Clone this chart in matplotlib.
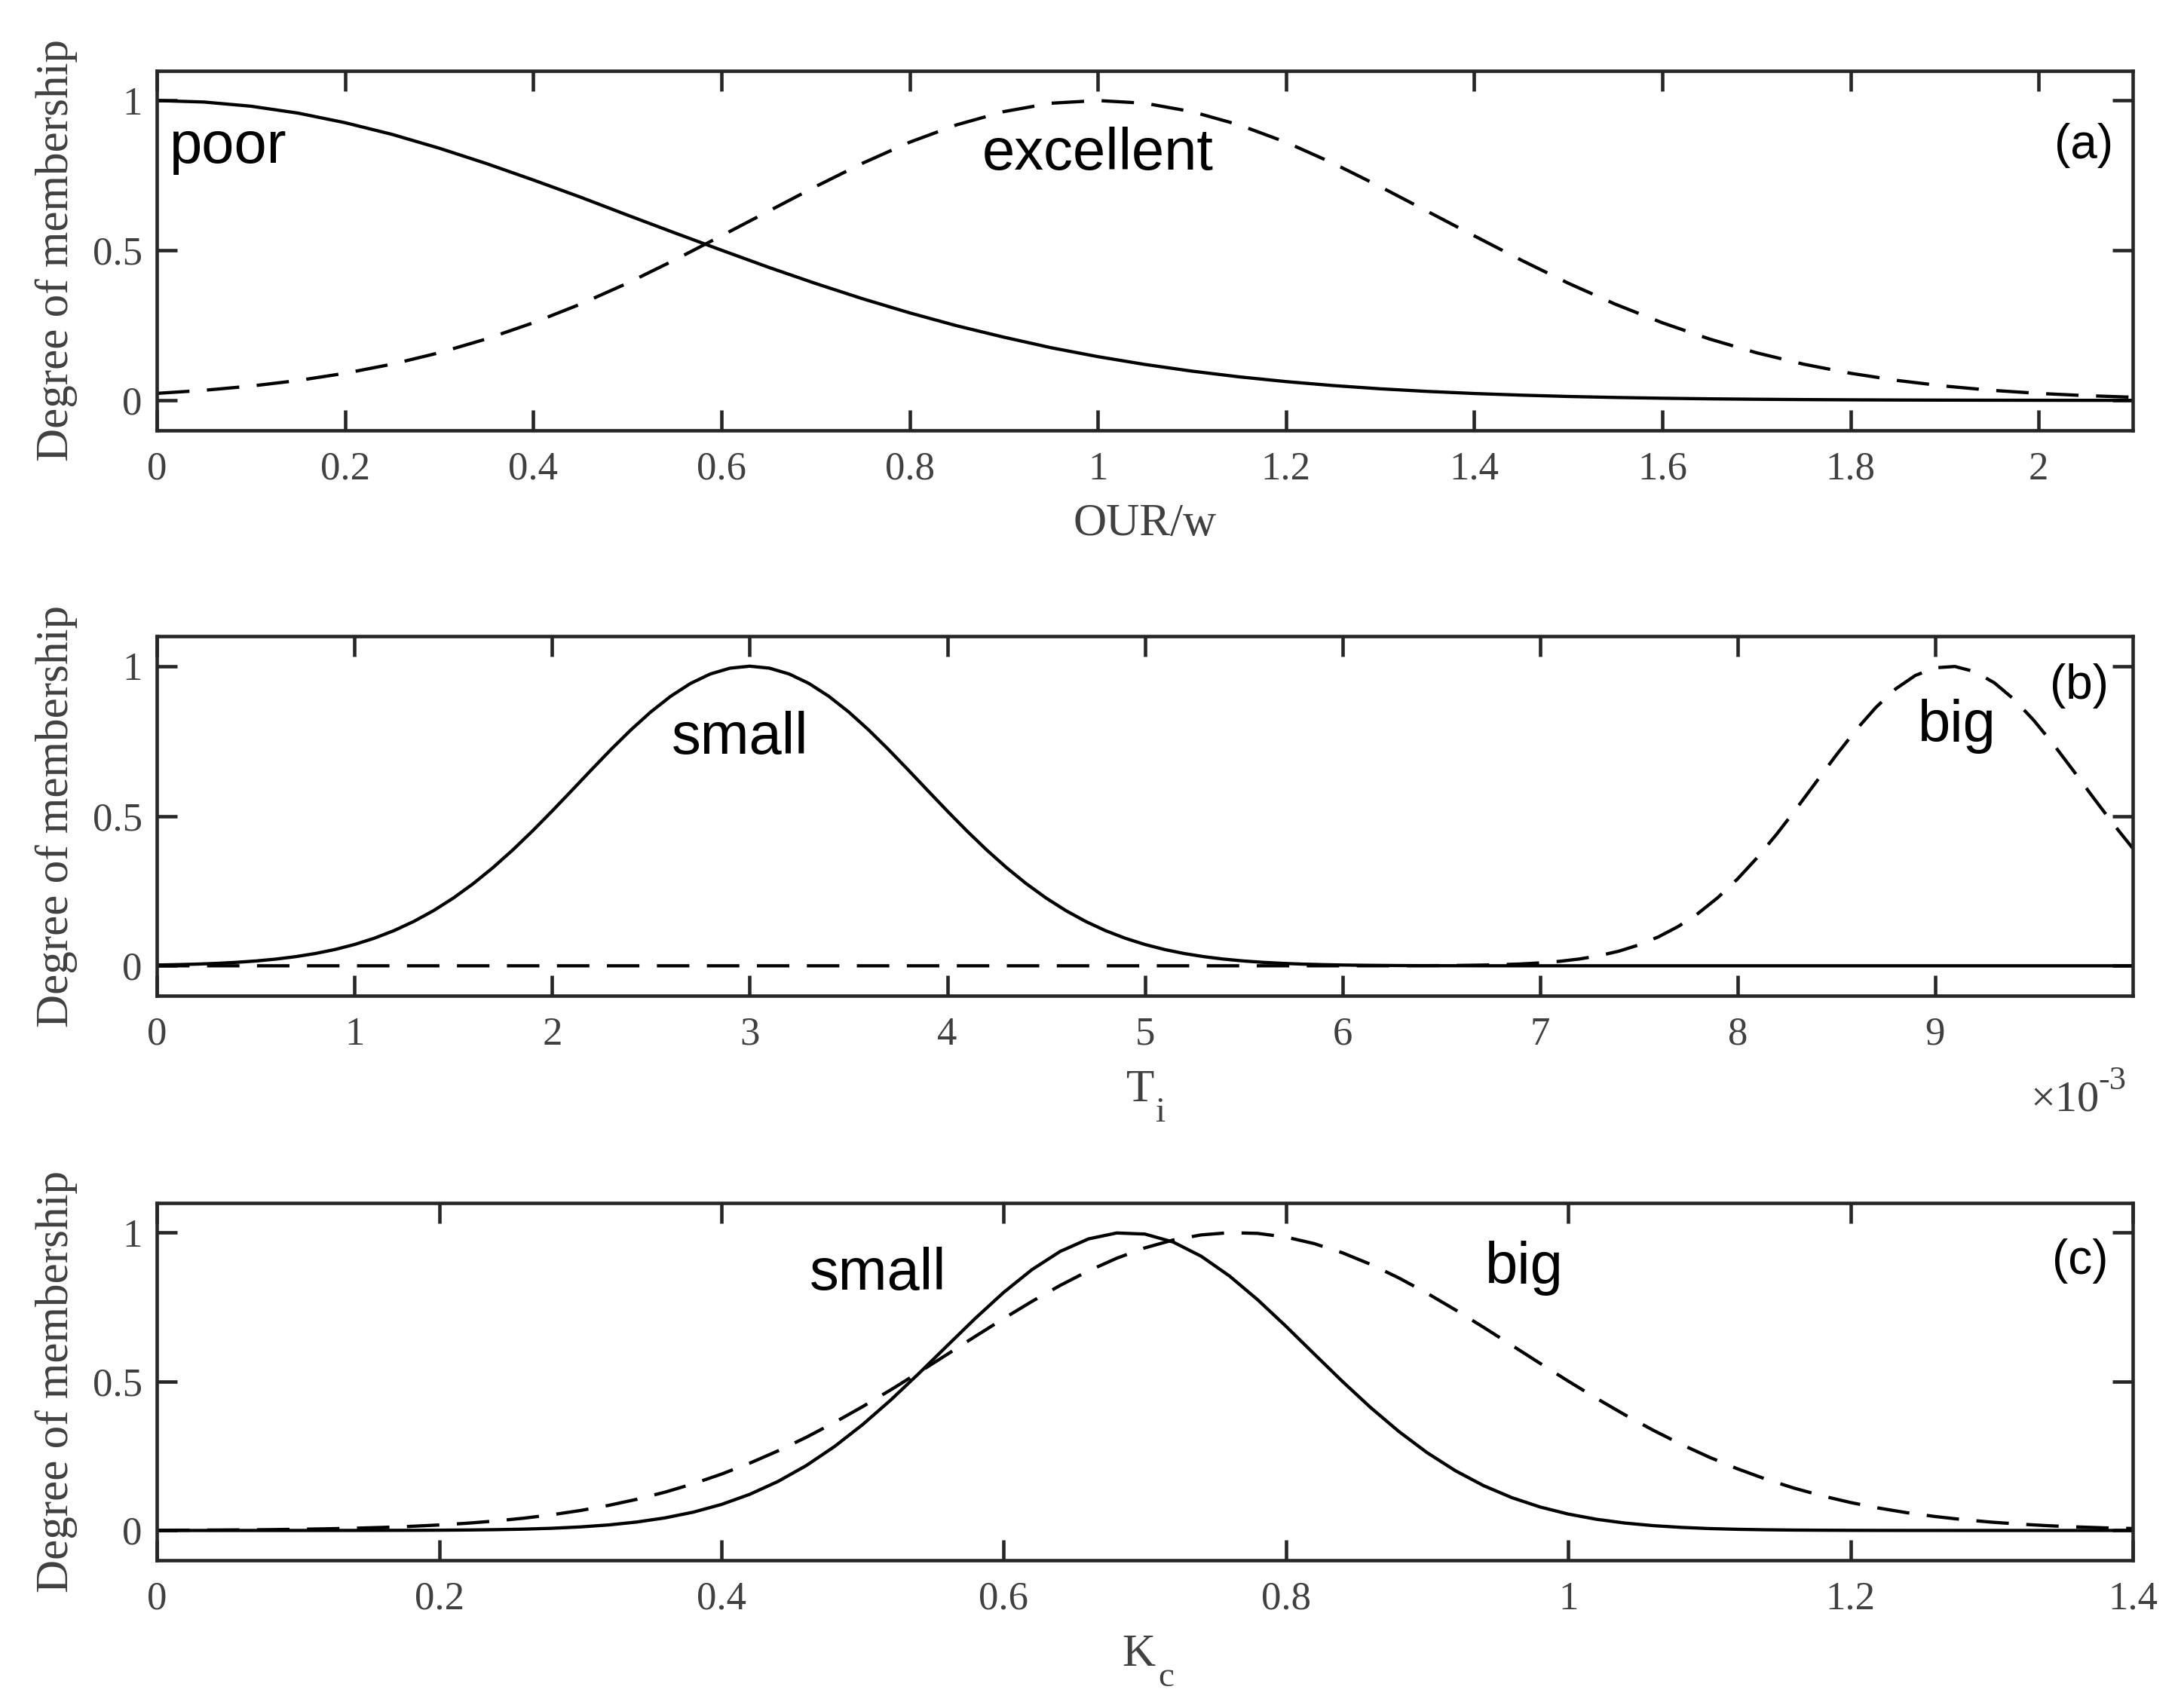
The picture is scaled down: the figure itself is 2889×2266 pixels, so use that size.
import numpy as np
import matplotlib
matplotlib.use("Agg")
import matplotlib.pyplot as plt
from matplotlib.ticker import FixedLocator, FuncFormatter

# ---- values ----
# (a) OUR/w memberships, sampled every 0.05
our_x = np.linspace(0, 2.1, 43)
our_poor = [1.000, 0.995, 0.981, 0.958, 0.926, 0.887, 0.841, 0.790, 0.735, 0.678,
            0.618, 0.559, 0.501, 0.444, 0.390, 0.339, 0.292, 0.249, 0.211, 0.176,
            0.146, 0.120, 0.0977, 0.0787, 0.0628, 0.0496, 0.0388, 0.0301, 0.0231,
            0.0176, 0.0132, 0.0099, 0.0073, 0.0053, 0.0039, 0.0028, 0.0020, 0.0014,
            0.0010, 0.0007, 0.0005, 0.0003, 0.0002]
our_excellent = [0.0235, 0.0338, 0.0479, 0.0665, 0.0906, 0.121, 0.159, 0.205, 0.259,
                 0.321, 0.391, 0.468, 0.549, 0.631, 0.713, 0.791, 0.861, 0.919, 0.963,
                 0.991, 1.000, 0.991, 0.963, 0.919, 0.861, 0.791, 0.713, 0.631, 0.549,
                 0.468, 0.391, 0.321, 0.259, 0.205, 0.159, 0.121, 0.0906, 0.0665,
                 0.0479, 0.0338, 0.0235, 0.0160, 0.0107]

# (b) Ti memberships (x in units of 1e-3 s), sampled every 0.1e-3
ti_small_x = np.r_[np.linspace(0, 7.0, 71), 10.0] * 1e-3
ti_small = [0.0026, 0.0039, 0.0056, 0.0081, 0.0115, 0.0161, 0.0223, 0.0304, 0.0409,
            0.0543, 0.0712, 0.0921, 0.1176, 0.1482, 0.1843, 0.2262, 0.2740, 0.3275,
            0.3863, 0.4497, 0.5166, 0.5856, 0.6552, 0.7235, 0.7884, 0.8478, 0.8997,
            0.9423, 0.9739, 0.9934, 1.0000, 0.9934, 0.9739, 0.9423, 0.8997, 0.8478,
            0.7884, 0.7235, 0.6552, 0.5856, 0.5166, 0.4497, 0.3863, 0.3275, 0.2740,
            0.2262, 0.1843, 0.1482, 0.1176, 0.0921, 0.0712, 0.0543, 0.0409, 0.0304,
            0.0223, 0.0161, 0.0115, 0.0081, 0.0056, 0.0039, 0.0026, 0.0018, 0.0012,
            0.0008, 0.0005, 0.0003, 0.0002, 0.0001, 0.0001, 0, 0, 0]
ti_big_x = np.r_[0.0, np.linspace(6.0, 10.0, 41)] * 1e-3
ti_big = [0, 0, 0.0001, 0.0001, 0.0002, 0.0004, 0.0008, 0.0014, 0.0023, 0.0038, 0.0061,
          0.0097, 0.0150, 0.0228, 0.0338, 0.0490, 0.0696, 0.0967, 0.1314, 0.1748,
          0.2276, 0.2900, 0.3615, 0.4411, 0.5267, 0.6154, 0.7037, 0.7875, 0.8624,
          0.9242, 0.9692, 0.9947, 0.9990, 0.9819, 0.9444, 0.8889, 0.8188, 0.7381,
          0.6510, 0.5620, 0.4748, 0.3925]

# (c) Kc memberships, sampled every 0.02
kc_x = np.linspace(0, 1.4, 71)
kc_small = [0, 0, 0, 0, 0, 0, 0.0001, 0.0001, 0.0003, 0.0005, 0.0009, 0.0016, 0.0027,
            0.0045, 0.0074, 0.0119, 0.0186, 0.0284, 0.0423, 0.0615, 0.0874, 0.1213,
            0.1645, 0.2177, 0.2815, 0.3554, 0.4382, 0.5277, 0.6205, 0.7127, 0.7994,
            0.8756, 0.9367, 0.9787, 0.9986, 0.9950, 0.9683, 0.9203, 0.8541, 0.7742,
            0.6854, 0.5925, 0.5003, 0.4125, 0.3322, 0.2612, 0.2007, 0.1505, 0.1103,
            0.0789, 0.0551, 0.0376, 0.0250, 0.0163, 0.0104, 0.0064, 0.0039, 0.0023,
            0.0013, 0.0008, 0.0004, 0.0002, 0.0001, 0.0001, 0, 0, 0, 0, 0, 0, 0]
kc_big = [0.0007, 0.0010, 0.0014, 0.0020, 0.0028, 0.0040, 0.0055, 0.0076, 0.0103,
          0.0139, 0.0185, 0.0244, 0.0319, 0.0413, 0.0529, 0.0670, 0.0842, 0.1046,
          0.1287, 0.1568, 0.1892, 0.2259, 0.2671, 0.3126, 0.3624, 0.4157, 0.4722,
          0.5311, 0.5914, 0.6520, 0.7116, 0.7689, 0.8226, 0.8713, 0.9137, 0.9486,
          0.9750, 0.9922, 0.9997, 0.9972, 0.9848, 0.9629, 0.9321, 0.8933, 0.8476,
          0.7963, 0.7406, 0.6820, 0.6217, 0.5611, 0.5014, 0.4436, 0.3886, 0.3370,
          0.2893, 0.2459, 0.2069, 0.1724, 0.1422, 0.1162, 0.0939, 0.0752, 0.0596,
          0.0468, 0.0363, 0.0279, 0.0213, 0.0160, 0.0120, 0.0088, 0.0065]

our_ticks = [0, 0.2, 0.4, 0.6, 0.8, 1.0, 1.2, 1.4, 1.6, 1.8, 2.0]
ti_ticks = [0, 0.001, 0.002, 0.003, 0.004, 0.005, 0.006, 0.007, 0.008, 0.009]
kc_ticks = [0, 0.2, 0.4, 0.6, 0.8, 1.0, 1.2, 1.4]
member_ticks = [0, 0.5, 1]

plt.rcParams['font.family'] = ['Liberation Serif', 'DejaVu Serif']

AX_COL = '#262626'
TXT_COL = '#404040'
DASH = (10.0, 5.4)
LW = 1.55


def style_axes(ax, xmax, xticks, xfmt):
    ax.set_xlim(0, xmax)
    ax.set_ylim(-0.1, 1.1)
    ax.xaxis.set_major_locator(FixedLocator(xticks))
    ax.xaxis.set_major_formatter(FuncFormatter(xfmt))
    ax.yaxis.set_major_locator(FixedLocator(member_ticks))
    ax.yaxis.set_major_formatter(FuncFormatter(lambda v, p: f"{v:g}"))
    ax.tick_params(direction='in', top=True, right=True, length=9.6, width=1.65,
                   color=AX_COL, labelcolor=TXT_COL, labelsize=19)
    ax.tick_params(axis='x', pad=10)
    ax.tick_params(axis='y', pad=7)
    for sp in ax.spines.values():
        sp.set_linewidth(1.65)
        sp.set_color(AX_COL)
    ax.set_ylabel('Degree of membership', fontsize=22, color=TXT_COL, labelpad=7)


def under(ax, s, dx, dy, size=22, ha='left', x=0.5):
    # text placed relative to the bottom spine, offsets in points
    ax.annotate(s, xy=(x, 0), xycoords='axes fraction', xytext=(dx, dy),
                textcoords='offset points', ha=ha, va='baseline',
                fontsize=size, color=TXT_COL)


def note(ax, x, y, s, size=28):
    ax.text(x, y, s, fontsize=size, family='Liberation Sans', color='black',
            ha='center', va='center')


fig = plt.figure(figsize=(2889 / 200, 2266 / 200), dpi=200)
left, width = 0.0721, 0.9071
ax_a = fig.add_axes([left, 0.7480, width, 0.2107])
ax_b = fig.add_axes([left, 0.4170, width, 0.2105])
ax_c = fig.add_axes([left, 0.0865, width, 0.2093])

# (a)
ax_a.plot(our_x, our_poor, color='k', lw=LW)
ax_a.plot(our_x, our_excellent, color='k', lw=LW, dashes=DASH)
style_axes(ax_a, 2.1, our_ticks, lambda v, p: f"{v:g}")
under(ax_a, 'OUR/w', 0, -50, ha='center')
note(ax_a, 0.076, 0.845, 'poor')
note(ax_a, 1.0, 0.82, 'excellent')
note(ax_a, 2.048, 0.85, '(a)', size=23)

# (b)
ax_b.plot(ti_small_x, ti_small, color='k', lw=LW)
ax_b.plot(ti_big_x, ti_big, color='k', lw=LW, dashes=DASH)
style_axes(ax_b, 0.01, ti_ticks, lambda v, p: f"{v * 1e3:g}")
under(ax_b, 'T', -8.8, -50.4)
under(ax_b, 'i', 5.2, -60.1, size=17)
under(ax_b, '\u00d710', -15.8, -54.7, size=21, ha='right', x=1.0)
under(ax_b, '-3', -2.9, -44.5, size=16, ha='right', x=1.0)
note(ax_b, 0.00295, 0.76, 'small')
note(ax_b, 0.00911, 0.80, 'big')
note(ax_b, 0.00973, 0.935, '(b)', size=23)

# (c)
ax_c.plot(kc_x, kc_small, color='k', lw=LW)
ax_c.plot(kc_x, kc_big, color='k', lw=LW, dashes=DASH)
style_axes(ax_c, 1.4, kc_ticks, lambda v, p: f"{v:g}")
under(ax_c, 'K', -10.8, -50.4)
under(ax_c, 'c', 6.3, -60.1, size=17)
note(ax_c, 0.511, 0.86, 'small')
note(ax_c, 0.969, 0.88, 'big')
note(ax_c, 1.3626, 0.905, '(c)', size=23)

fig.savefig('out.png', dpi=200)
